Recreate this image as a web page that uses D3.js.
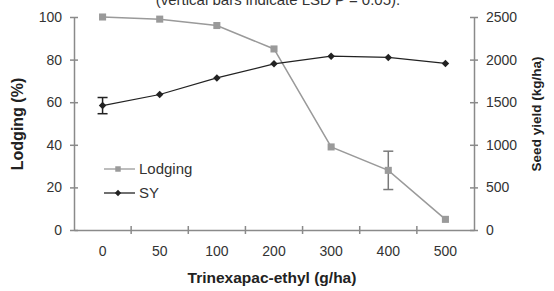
<!DOCTYPE html>
<html>
<head>
<meta charset="utf-8">
<script src="https://cdn.jsdelivr.net/npm/d3@7"></script>
<style>
  body { margin: 0; background: #fff; }
  svg { display: block; font-family: "Liberation Sans", Arial, sans-serif; }
</style>
</head>
<body>
<div id="chart"></div>
<script>
// data
const doses = ['0', '50', '100', '200', '300', '400', '500'];
const lodging = [100, 99, 96, 85, 39, 28, 5];
const seedYield = [1460, 1590, 1785, 1950, 2040, 2025, 1955];
const lodgingErr = [null, null, null, null, null, 9, null];   // half LSD bar
const yieldErr = [95, null, null, null, null, null, null];
const leftTicks = [0, 20, 40, 60, 80, 100];
const rightTicks = [0, 500, 1000, 1500, 2000, 2500];

const width = 554, height = 291;
const margin = {top: 17, right: 80, bottom: 61, left: 74};

const svg = d3.select('#chart')
  .append('svg')
  .attr('width', width)
  .attr('height', height);

const x = d3.scaleBand()
  .domain(doses)
  .range([margin.left, width - margin.right]);

const yL = d3.scaleLinear()
  .domain([0, 100])
  .range([height - margin.bottom, margin.top]);

const yR = d3.scaleLinear()
  .domain([0, 2500])
  .range([height - margin.bottom, margin.top]);

const axisColor = '#8a8a8a';
const textColor = '#333';

// title (clipped at top, as in the source)
svg.append('text')
  .attr('x', 278)
  .attr('y', 5)
  .attr('text-anchor', 'middle')
  .attr('font-size', 15)
  .attr('fill', textColor)
  .text('(vertical bars indicate LSD P = 0.05).');

// x axis
const xAxis = svg.append('g')
  .attr('transform', `translate(0,${height - margin.bottom})`)
  .call(d3.axisBottom(x).tickSize(0).tickPadding(16));
xAxis.select('.domain').attr('stroke', axisColor).attr('stroke-width', 1.5);
xAxis.selectAll('text').attr('font-size', 14).attr('fill', textColor);
// ticks between categories
xAxis.selectAll('.sep')
  .data(doses.slice(1))
  .enter()
  .append('line')
  .attr('x1', d => x(d)).attr('x2', d => x(d))
  .attr('y1', -4).attr('y2', 4)
  .attr('stroke', axisColor).attr('stroke-width', 1.5);

// left axis
const lAxis = svg.append('g')
  .attr('transform', `translate(${margin.left},0)`)
  .call(d3.axisLeft(yL).tickValues(leftTicks).tickSizeInner(4).tickSizeOuter(0).tickPadding(8));
lAxis.select('.domain').attr('stroke', axisColor).attr('stroke-width', 1.5);
lAxis.selectAll('line').attr('stroke', axisColor).attr('stroke-width', 1.5).attr('x2', 4).attr('x1', -4);
lAxis.selectAll('text').attr('font-size', 14).attr('fill', textColor);

// right axis
const rAxis = svg.append('g')
  .attr('transform', `translate(${width - margin.right},0)`)
  .call(d3.axisRight(yR).tickValues(rightTicks).tickFormat(d3.format('d'))
    .tickSizeInner(4).tickSizeOuter(0).tickPadding(8));
rAxis.select('.domain').attr('stroke', axisColor).attr('stroke-width', 1.5);
rAxis.selectAll('line').attr('stroke', axisColor).attr('stroke-width', 1.5).attr('x1', -4).attr('x2', 4);
rAxis.selectAll('text').attr('font-size', 14).attr('fill', textColor);

// axis titles
svg.append('text')
  .attr('x', 272)
  .attr('y', 283)
  .attr('text-anchor', 'middle')
  .attr('font-size', 15.5)
  .attr('font-weight', 'bold')
  .attr('fill', '#222')
  .text('Trinexapac-ethyl (g/ha)');

svg.append('text')
  .attr('transform', 'translate(23,124) rotate(-90)')
  .attr('text-anchor', 'middle')
  .attr('font-size', 16)
  .attr('font-weight', 'bold')
  .attr('fill', '#222')
  .text('Lodging (%)');

svg.append('text')
  .attr('transform', 'translate(541,114) rotate(-90)')
  .attr('text-anchor', 'middle')
  .attr('font-size', 13.5)
  .attr('font-weight', 'bold')
  .attr('fill', '#222')
  .text('Seed yield (kg/ha)');

const cx = d => x(d) + x.bandwidth() / 2;
const lodgeColor = '#9a9a9a';
const syColor = '#222';

// lodging series
const lodgeData = doses.map((d, i) => ({dose: d, v: lodging[i], e: lodgingErr[i]}));
svg.append('path')
  .datum(lodgeData)
  .attr('fill', 'none')
  .attr('stroke', lodgeColor)
  .attr('stroke-width', 1.5)
  .attr('d', d3.line().x(d => cx(d.dose)).y(d => yL(d.v)));

// SY series
const syData = doses.map((d, i) => ({dose: d, v: seedYield[i], e: yieldErr[i]}));
svg.append('path')
  .datum(syData)
  .attr('fill', 'none')
  .attr('stroke', syColor)
  .attr('stroke-width', 1.2)
  .attr('d', d3.line().x(d => cx(d.dose)).y(d => yR(d.v)));

// error bars
function errBars(data, scale, color) {
  const g = svg.append('g').attr('stroke', color).attr('stroke-width', 1.5);
  const withErr = data.filter(d => d.e != null);
  g.selectAll('.v').data(withErr).enter().append('line')
    .attr('x1', d => cx(d.dose)).attr('x2', d => cx(d.dose))
    .attr('y1', d => scale(d.v + d.e)).attr('y2', d => scale(d.v - d.e));
  [1, -1].forEach(s => {
    g.selectAll('.c' + s).data(withErr).enter().append('line')
      .attr('x1', d => cx(d.dose) - 5).attr('x2', d => cx(d.dose) + 5)
      .attr('y1', d => scale(d.v + s * d.e)).attr('y2', d => scale(d.v + s * d.e));
  });
}
errBars(lodgeData, yL, '#7a7a7a');
errBars(syData, yR, syColor);

// markers
svg.selectAll('.lodge')
  .data(lodgeData)
  .enter()
  .append('path')
  .attr('transform', d => `translate(${cx(d.dose)},${yL(d.v)})`)
  .attr('d', d3.symbol(d3.symbolSquare, 50))
  .attr('fill', lodgeColor);

svg.selectAll('.sy')
  .data(syData)
  .enter()
  .append('path')
  .attr('transform', d => `translate(${cx(d.dose)},${yR(d.v)}) rotate(45)`)
  .attr('d', d3.symbol(d3.symbolSquare, 28))
  .attr('fill', syColor);

// legend
const legend = [
  {name: 'Lodging', color: lodgeColor, sym: 'sq', y: 169},
  {name: 'SY', color: syColor, sym: 'dia', y: 193}
];
legend.forEach(l => {
  svg.append('line')
    .attr('x1', 104).attr('x2', 135)
    .attr('y1', l.y).attr('y2', l.y)
    .attr('stroke', l.color).attr('stroke-width', 1.3);
  svg.append('path')
    .attr('transform', `translate(118,${l.y})` + (l.sym === 'dia' ? ' rotate(45)' : ''))
    .attr('d', d3.symbol(d3.symbolSquare, l.sym === 'dia' ? 20 : 30))
    .attr('fill', l.color);
  svg.append('text')
    .attr('x', 139)
    .attr('y', l.y + 5)
    .attr('font-size', 15)
    .attr('fill', textColor)
    .text(l.name);
});
</script>
</body>
</html>
